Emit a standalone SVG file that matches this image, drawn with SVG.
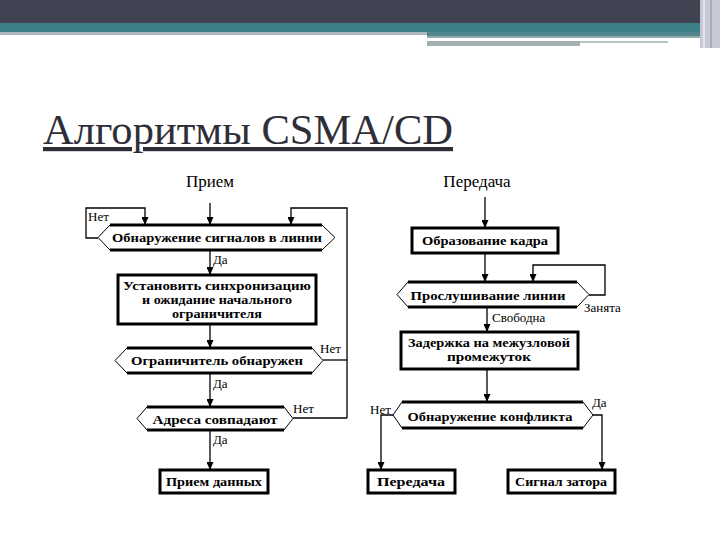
<svg xmlns="http://www.w3.org/2000/svg" width="720" height="540" viewBox="0 0 720 540">
<style>
.ln{fill:none;stroke:#000;stroke-width:1.3}
.box{fill:#fff;stroke:#000;stroke-width:3}
.dec{fill:#fff;stroke:#000;stroke-width:1}
.thk{stroke:#000;stroke-width:3}
.nt{font-family:"Liberation Serif","Times New Roman",serif;font-weight:bold;font-size:13px;fill:#000;text-anchor:middle}
.sm{font-size:11.5px}
.lb{font-family:"Liberation Serif","Times New Roman",serif;font-size:13px;fill:#000}
.hd{font-family:"Liberation Serif","Times New Roman",serif;font-size:17px;fill:#000;text-anchor:middle}
</style>
<defs>
<marker id="ar" markerWidth="8" markerHeight="7" refX="8" refY="3.5" orient="auto" markerUnits="userSpaceOnUse">
<path d="M0,0 L8,3.5 L0,7 z" fill="#000"/>
</marker>
</defs>
<rect width="720" height="540" fill="#fff"/>
<g id="header">
<rect x="0" y="0" width="720" height="23" fill="#3f4352"/>
<rect x="0" y="23" width="720" height="9" fill="#3d7f86"/>
<rect x="0" y="32" width="427" height="3" fill="#a9b9bd"/>
<rect x="427" y="32" width="273" height="4" fill="#4f858b"/>
<rect x="427" y="36" width="273" height="2" fill="#8eaaad"/>
<rect x="427" y="41" width="153" height="5" fill="#a3b1b1"/>
<rect x="580" y="41" width="88" height="2" fill="#b3c4c4"/>
<rect x="700" y="0" width="20" height="48" fill="#c6c9d3"/>
<rect x="703" y="0" width="2" height="48" fill="#e2e4ea"/>
<rect x="710" y="0" width="2" height="48" fill="#a9adb9"/>
</g>
<text id="title" x="43" y="144" font-family="'Liberation Serif','Times New Roman',serif" font-size="42" fill="#2e2e38" textLength="410" lengthAdjust="spacingAndGlyphs" text-decoration="underline">Алгоритмы CSMA/CD</text>
<g id="connectors">
<line class="ln" x1="210" y1="203" x2="210" y2="225" marker-end="url(#ar)"/>
<polyline class="ln" points="98,238 86,238 86,208 145,208 145,225" marker-end="url(#ar)"/>
<polyline class="ln" points="347,418 347,208 291,208 291,225" marker-end="url(#ar)"/>
<line class="ln" x1="210" y1="250" x2="210" y2="275" marker-end="url(#ar)"/>
<line class="ln" x1="210" y1="324" x2="210" y2="348" marker-end="url(#ar)"/>
<line class="ln" x1="323" y1="360" x2="347" y2="360"/>
<line class="ln" x1="210" y1="373" x2="210" y2="407" marker-end="url(#ar)"/>
<line class="ln" x1="293" y1="418" x2="347" y2="418"/>
<line class="ln" x1="210" y1="430" x2="210" y2="470" marker-end="url(#ar)"/>
<line class="ln" x1="485" y1="197" x2="485" y2="228" marker-end="url(#ar)"/>
<line class="ln" x1="485" y1="253" x2="485" y2="282" marker-end="url(#ar)"/>
<polyline class="ln" points="589,295 605,295 605,265 533,265 533,282" marker-end="url(#ar)"/>
<line class="ln" x1="487" y1="307" x2="487" y2="332" marker-end="url(#ar)"/>
<line class="ln" x1="487" y1="369" x2="487" y2="402" marker-end="url(#ar)"/>
<polyline class="ln" points="393,415 381,415 381,470" marker-end="url(#ar)"/>
<polyline class="ln" points="593,415 602,415 602,470" marker-end="url(#ar)"/>
<text class="lb" x="88" y="221">Нет</text>
<text class="lb" x="213" y="264">Да</text>
<text class="lb" x="320" y="353">Нет</text>
<text class="lb" x="213" y="388">Да</text>
<text class="lb" x="293" y="413">Нет</text>
<text class="lb" x="213" y="444">Да</text>
<text class="lb" x="584" y="312">Занята</text>
<text class="lb" x="492" y="322">Свободна</text>
<text class="lb" x="370" y="414">Нет</text>
<text class="lb" x="592" y="407">Да</text>
</g>
<g id="recv-head"><text class="hd" x="210" y="187">Прием</text></g>
<g id="send-head"><text class="hd" x="477" y="187">Передача</text></g>
<g id="d-detect">
<polygon class="dec" points="98,237.5 110,225 322,225 335,237.5 322,250 110,250"/>
<line class="thk" x1="110" y1="225" x2="322" y2="225"/><line class="thk" x1="110" y1="250" x2="322" y2="250"/>
<text class="nt" x="217" y="242" textLength="210" lengthAdjust="spacingAndGlyphs">Обнаружение сигналов в линии</text>
</g>
<g id="b-sync">
<rect class="box" x="118" y="275" width="198" height="49"/>
<text class="nt sm" x="217" y="290" textLength="188" lengthAdjust="spacingAndGlyphs">Установить синхронизацию</text>
<text class="nt sm" x="217" y="304" textLength="150" lengthAdjust="spacingAndGlyphs">и ожидание начального</text>
<text class="nt sm" x="217" y="318" textLength="90" lengthAdjust="spacingAndGlyphs">ограничителя</text>
</g>
<g id="d-delim">
<polygon class="dec" points="115,360.5 127,348 312,348 323,360.5 312,373 127,373"/>
<line class="thk" x1="127" y1="348" x2="312" y2="348"/><line class="thk" x1="127" y1="373" x2="312" y2="373"/>
<text class="nt" x="217" y="365" textLength="172" lengthAdjust="spacingAndGlyphs">Ограничитель обнаружен</text>
</g>
<g id="d-addr">
<polygon class="dec" points="137,418.5 147,407 284,407 293,418.5 284,430 147,430"/>
<line class="thk" x1="147" y1="407" x2="284" y2="407"/><line class="thk" x1="147" y1="430" x2="284" y2="430"/>
<text class="nt" x="215" y="424" textLength="125" lengthAdjust="spacingAndGlyphs">Адреса совпадают</text>
</g>
<g id="b-recv">
<rect class="box" x="160" y="470" width="108" height="23"/>
<text class="nt" x="214" y="486" textLength="96" lengthAdjust="spacingAndGlyphs">Прием данных</text>
</g>
<g id="b-frame">
<rect class="box" x="412" y="228" width="146" height="25"/>
<text class="nt" x="485" y="245" textLength="126" lengthAdjust="spacingAndGlyphs">Образование кадра</text>
</g>
<g id="d-listen">
<polygon class="dec" points="397,294.5 408,282 577,282 589,294.5 577,307 408,307"/>
<line class="thk" x1="408" y1="282" x2="577" y2="282"/><line class="thk" x1="408" y1="307" x2="577" y2="307"/>
<text class="nt" x="488" y="300" textLength="155" lengthAdjust="spacingAndGlyphs">Прослушивание линии</text>
</g>
<g id="b-delay">
<rect class="box" x="401" y="332" width="177" height="37"/>
<text class="nt sm" x="489" y="347" textLength="162" lengthAdjust="spacingAndGlyphs">Задержка на межузловой</text>
<text class="nt sm" x="489" y="361" textLength="84" lengthAdjust="spacingAndGlyphs">промежуток</text>
</g>
<g id="d-coll">
<polygon class="dec" points="393,415 402,402 583,402 593,415 583,428 402,428"/>
<line class="thk" x1="402" y1="402" x2="583" y2="402"/><line class="thk" x1="402" y1="428" x2="583" y2="428"/>
<text class="nt" x="490" y="421" textLength="165" lengthAdjust="spacingAndGlyphs">Обнаружение конфликта</text>
</g>
<g id="b-send">
<rect class="box" x="368" y="470" width="87" height="23"/>
<text class="nt" x="411" y="486" textLength="68" lengthAdjust="spacingAndGlyphs">Передача</text>
</g>
<g id="b-jam">
<rect class="box" x="508" y="470" width="107" height="23"/>
<text class="nt" x="561" y="486" textLength="92" lengthAdjust="spacingAndGlyphs">Сигнал затора</text>
</g>
</svg>
